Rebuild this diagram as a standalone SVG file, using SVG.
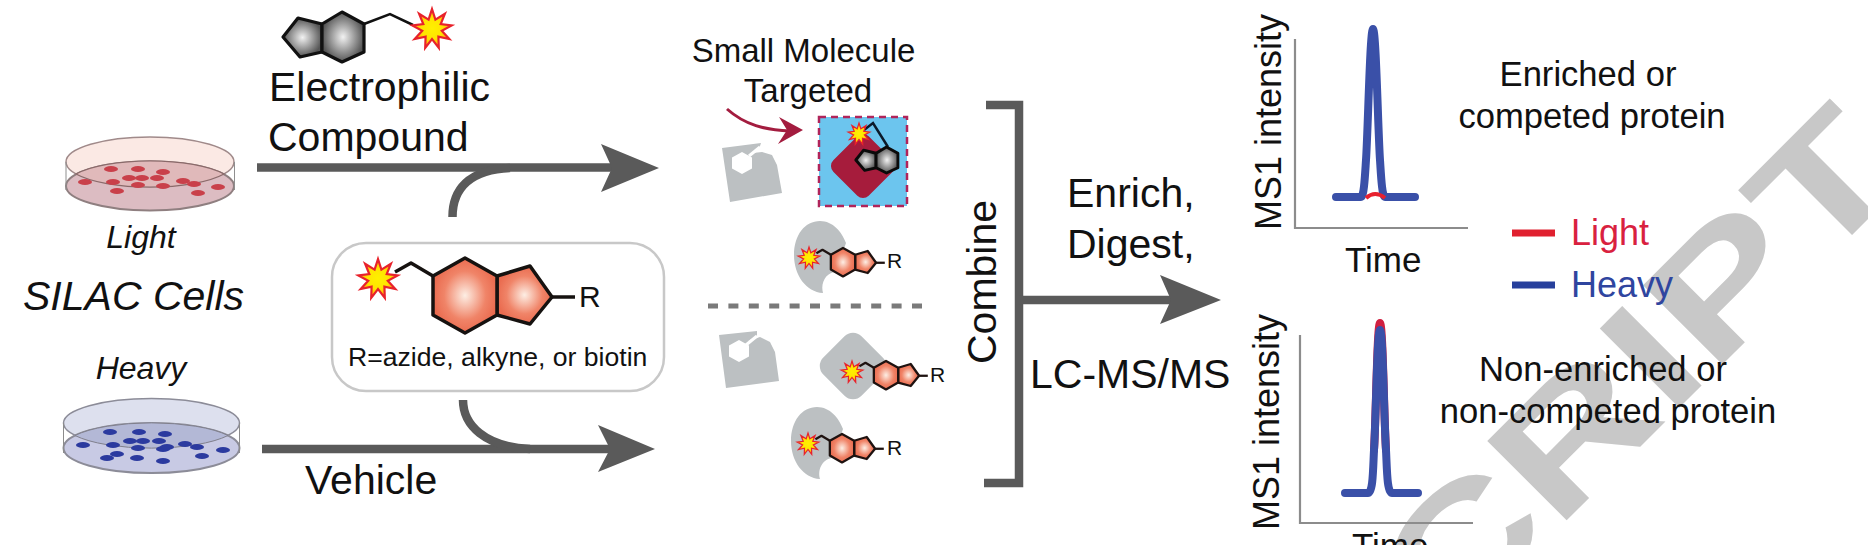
<svg xmlns="http://www.w3.org/2000/svg" width="1868" height="545" viewBox="0 0 1868 545">
<style>
text{font-family:"Liberation Sans",Arial,sans-serif;fill:#111}
.i{font-style:italic}
.m{text-anchor:middle}
.f41{font-size:41px}
.f35{font-size:34.6px}
.f36{font-size:36px}
.conn{fill:none;stroke:#5a5a5a;stroke-width:8.5}
.head{fill:#5a5a5a}
.ax{fill:none;stroke:#8c8c8c;stroke-width:2.2}
.prot{fill:#bcc0c2}
.pk{fill:none;stroke:#3a50a8;stroke-width:8;stroke-linecap:round;stroke-linejoin:round}
.cr{fill:#c9404a}
.cb{fill:#2b3a9f}
</style>
<defs>
<radialGradient id="gg"><stop offset="0" stop-color="#f2f2f2"/><stop offset="1" stop-color="#555"/></radialGradient>
<radialGradient id="og"><stop offset="0" stop-color="#fdeee4"/><stop offset=".65" stop-color="#f08468"/><stop offset="1" stop-color="#ea6c50"/></radialGradient>
<radialGradient id="sg"><stop offset="0" stop-color="#fff000"/><stop offset=".55" stop-color="#ffe400"/><stop offset="1" stop-color="#ff9a10"/></radialGradient>
<polygon id="star" points="0,-20 3.4,-9.4 12.9,-15.3 8.7,-5 19.7,-3.5 9.8,1.7 17.3,10 6.4,7.7 6.8,18.8 0,10 -6.8,18.8 -6.4,7.7 -17.3,10 -9.8,1.7 -19.7,-3.5 -8.7,-5 -12.9,-15.3 -3.4,-9.4" fill="url(#sg)" stroke="#e8222b" stroke-width="2.2"/>
<g id="omol" stroke-linejoin="round">
<polyline points="-70,-23 -54,-32 -32,-19" fill="none"/>
<line x1="87" y1="2" x2="110" y2="2"/>
<polygon points="32,-19 65,-29 87,2 65,29 32,20" fill="url(#og)"/>
<polygon points="-32,-19 0,-37 32,-19 32,20 0,38 -32,20" fill="url(#og)"/>
</g>
<g id="gmol" stroke-linejoin="round">
<polygon points="-60,0 -45,-19 -21,-13 -21,15 -43,20" fill="url(#gg)"/>
<polygon points="-21,-13 -1,-25 21,-13 21,15 -1,25 -21,15" fill="url(#gg)"/>
</g>
<path id="blob" class="prot" d="M823,293 C806,292 794,275 794,255 C794,235 805,221 820,221 C833,221 842,232 846,243 L836,272 C827,272 820,282 823,293 Z"/>
</defs>

<g id="watermark"><text transform="translate(1444,643) rotate(-45) scale(1.35,1)" font-size="163" font-weight="700" style="fill:#c8c8c8">CRIPT</text></g>

<g id="connectors">
<line class="conn" x1="257" y1="167.5" x2="615" y2="167.5"/>
<polygon class="head" points="659,168 601,144 612,168 601,192"/>
<path class="conn" d="M452.5,217 C452.5,190 468,170 510,168"/>
<line class="conn" x1="262" y1="449" x2="612" y2="449"/>
<polygon class="head" points="655,449 598,425 610,449 598,472"/>
<path class="conn" d="M463,400 C463,425 485,447 530,449"/>
<path class="conn" d="M986,105 H1019 V483 H984"/>
<line class="conn" x1="1019" y1="300" x2="1174" y2="300"/>
<polygon class="head" points="1221,300 1160,275 1171,300 1160,324"/>
<line x1="708" y1="306" x2="923" y2="306" stroke="#7a7a7a" stroke-width="5" stroke-dasharray="10 10.4"/>
<path d="M727,109 C745,125 765,130 790,131" fill="none" stroke="#a31c3f" stroke-width="3"/>
<polygon points="803,130 779,117 787,130 778,144" fill="#a31c3f"/>
</g>

<g id="compound-top">
<polyline points="364,24 390,14 413,25" fill="none" stroke="#111" stroke-width="2.5"/>
<use href="#gmol" transform="translate(343,37)" stroke="#111" stroke-width="3.2"/>
<use href="#star" transform="translate(432,29)"/>
<text class="f41" x="269" y="100.7">Electrophilic</text>
<text class="f41" x="268" y="150.7">Compound</text>
</g>

<g id="dish-light">
<ellipse cx="150" cy="162" rx="84" ry="25" fill="#fbe9e4" stroke="#a08a8a" stroke-width="1.5"/>
<ellipse cx="150" cy="186" rx="84" ry="24.5" fill="#dcbcc2" stroke="#8f7f80" stroke-width="2"/>
<path d="M76,174 A84,25 0 0 1 224,174 A84,25 0 0 1 76,174 Z" fill="#e0b9ba" stroke="#8a6a6a" stroke-width="1.2"/>
<path d="M66,162 V190 M234.500,162 V190" stroke="#8f8f8f" stroke-width="1"/>
<g class="cr"><ellipse cx="111" cy="169" rx="7" ry="3"/><ellipse cx="138" cy="169" rx="7" ry="3"/><ellipse cx="163" cy="172" rx="7" ry="3"/><ellipse cx="85" cy="182" rx="7" ry="3"/><ellipse cx="113" cy="182" rx="7" ry="3"/><ellipse cx="129" cy="178" rx="7" ry="3"/><ellipse cx="142" cy="178" rx="7" ry="3"/><ellipse cx="157" cy="178" rx="7" ry="3"/><ellipse cx="138" cy="185" rx="7" ry="3"/><ellipse cx="163" cy="186" rx="7" ry="3"/><ellipse cx="183" cy="181" rx="7" ry="3"/><ellipse cx="194" cy="184" rx="7" ry="3"/><ellipse cx="218" cy="187" rx="7" ry="3"/><ellipse cx="198" cy="193" rx="7" ry="3"/><ellipse cx="117" cy="191" rx="7" ry="3"/></g>
<text class="i m" font-size="32" x="141" y="248">Light</text>
</g>

<g id="silac"><text class="i f41" x="23" y="310">SILAC Cells</text></g>

<g id="dish-heavy">
<text class="i m" font-size="32" x="141" y="379">Heavy</text>
<ellipse cx="151.500" cy="423" rx="88" ry="24.500" fill="#dde0ee" stroke="#8c8c98" stroke-width="1.500"/>
<ellipse cx="151.500" cy="448" rx="88" ry="25" fill="#c8cae4" stroke="#8c8c98" stroke-width="2"/>
<path d="M75,435.500 A88,25 0 0 1 228,435.500 A88,25 0 0 1 75,435.500 Z" fill="#b3b8d6" stroke="#80808c" stroke-width="1"/>
<path d="M63.500,423 V453 M239.500,423 V453" stroke="#8c8c8c" stroke-width="1"/>
<g class="cb"><ellipse cx="110" cy="432" rx="7" ry="3"/><ellipse cx="139" cy="432" rx="7" ry="3"/><ellipse cx="165" cy="434" rx="7" ry="3"/><ellipse cx="83" cy="445" rx="7" ry="3"/><ellipse cx="113" cy="445" rx="7" ry="3"/><ellipse cx="130" cy="441" rx="7" ry="3"/><ellipse cx="143" cy="441" rx="7" ry="3"/><ellipse cx="159" cy="441" rx="7" ry="3"/><ellipse cx="138" cy="448" rx="7" ry="3"/><ellipse cx="163" cy="449" rx="7" ry="3"/><ellipse cx="167" cy="447" rx="7" ry="3"/><ellipse cx="185" cy="444" rx="7" ry="3"/><ellipse cx="197" cy="447" rx="7" ry="3"/><ellipse cx="223" cy="450" rx="7" ry="3"/><ellipse cx="202" cy="456" rx="7" ry="3"/><ellipse cx="117" cy="454" rx="7" ry="3"/><ellipse cx="107" cy="458" rx="7" ry="3"/><ellipse cx="137" cy="458" rx="7" ry="3"/><ellipse cx="163" cy="461" rx="7" ry="3"/></g>
</g>

<g id="vehicle"><text class="f41" x="305" y="494">Vehicle</text></g>

<g id="probe-box">
<rect x="332" y="243" width="332" height="148" rx="34" fill="#fff" stroke="#c8c8c8" stroke-width="2.500"/>
<use href="#omol" transform="translate(465,295)" stroke="#161210" stroke-width="3.500"/>
<use href="#star" transform="translate(378,279)"/>
<text font-size="30" x="579" y="307">R</text>
<text font-size="26.600" x="348" y="366">R=azide, alkyne, or biotin</text>
</g>

<g id="target-label">
<text class="m" font-size="33" x="803.500" y="62">Small Molecule</text>
<text class="m" font-size="33" x="808" y="102">Targeted</text>
</g>

<g id="protein-apo-top">
<polygon class="prot" points="722,148 761,143 759,149 753,153 762,152 772,155 777,165 782,193 730,202"/>
<polygon fill="#fff" points="742,152 752,157.500 752,168.500 742,174 732,168.500 732,157.500"/>
<line x1="749" y1="156" x2="760" y2="147" stroke="#fff" stroke-width="3"/>
</g>

<g id="target-box">
<rect x="819" y="117" width="88" height="89" fill="#6cc5ee" stroke="#b0245a" stroke-width="2.500" stroke-dasharray="7 5"/>
<rect x="838" y="141" width="50" height="50" rx="8" fill="#a61c3c" transform="rotate(45 863 166)"/>
<polyline points="864,130 873,123 888,147" fill="none" stroke="#0b1a2a" stroke-width="2.500"/>
<use href="#gmol" transform="translate(887,160) scale(.52)" stroke="#0a0a0a" stroke-width="5.500"/>
<use href="#star" transform="translate(859,134) scale(.55)" stroke="none"/>
</g>

<g id="protein-bound-1">
<use href="#blob"/>
<use href="#omol" transform="translate(843,262) scale(.38)" stroke="#1e1210" stroke-width="6"/>
<use href="#star" transform="translate(809,258) scale(.55)"/>
<text font-size="21" x="887" y="268">R</text>
</g>

<g id="protein-apo-bottom">
<polygon class="prot" points="719,335 757,331 757,336 748,341 760,337 770,342 775,352 779,381 726,388"/>
<polygon fill="#fff" points="739,340 749,345.500 749,356.500 739,362 729,356.500 729,345.500"/>
<line x1="746" y1="345" x2="757" y2="336" stroke="#fff" stroke-width="3"/>
</g>

<g id="protein-bound-2">
<rect x="826" y="339" width="54" height="54" rx="12" class="prot" transform="rotate(45 853 366)"/>
<use href="#omol" transform="translate(886,375) scale(.38)" stroke="#1e1210" stroke-width="6"/>
<use href="#star" transform="translate(852,372) scale(.55)"/>
<text font-size="21" x="930" y="382">R</text>
</g>

<g id="protein-bound-3">
<use href="#blob" transform="translate(-3,186)"/>
<use href="#omol" transform="translate(842,448) scale(.38)" stroke="#1e1210" stroke-width="6"/>
<use href="#star" transform="translate(808,444) scale(.55)"/>
<text font-size="21" x="887" y="455">R</text>
</g>

<g id="combine"><text class="f41" transform="translate(996,364) rotate(-90)">Combine</text></g>

<g id="workflow-labels">
<text class="f41" x="1067" y="207">Enrich,</text>
<text class="f41" x="1067" y="258">Digest,</text>
<text class="f41" x="1030" y="388">LC-MS/MS</text>
</g>

<g id="chart-top">
<path class="ax" d="M1295,39 V228 H1468"/>
<text class="f36" transform="translate(1281,230) rotate(-90)">MS1 intensity</text>
<path class="pk" d="M1336,197 H1361 C1364,197 1365,175 1366,160 C1368,130 1370,29 1373,29 C1376,29 1378,130 1380,160 C1381,175 1382,197 1385,197 H1415"/>
<path d="M1366,198 Q1375,190 1385,198" fill="none" stroke="#e8212f" stroke-width="4"/>
<text font-size="35" x="1345" y="272">Time</text>
</g>

<g id="chart-bottom">
<path class="ax" d="M1300,335 V523 H1473"/>
<text class="f36" transform="translate(1279,530) rotate(-90)">MS1 intensity</text>
<path class="pk" style="stroke:#d01f40" d="M1374,450 C1376,420 1377,323 1380,323 C1383,323 1384,420 1386,450"/>
<path class="pk" d="M1345,493 H1368 C1373,493 1373,470 1374,450 C1376,420 1377,330 1380,330 C1383,330 1384,420 1386,450 C1387,470 1387,493 1392,493 H1418"/>
<text font-size="35" x="1352" y="558">Time</text>
</g>

<g id="legend">
<line x1="1512" y1="233" x2="1555" y2="233" stroke="#e0202f" stroke-width="7"/>
<text class="f36" x="1571" y="245" style="fill:#d9213f">Light</text>
<line x1="1512" y1="285" x2="1555" y2="285" stroke="#27409c" stroke-width="7"/>
<text class="f36" x="1571" y="297" style="fill:#2f459f">Heavy</text>
</g>

<g id="result-labels">
<text class="m f35" x="1588" y="86">Enriched or</text>
<text class="m f35" x="1592" y="128">competed protein</text>
<text class="m f35" x="1603" y="381">Non-enriched or</text>
<text class="m f35" x="1608" y="423">non-competed protein</text>
</g>
</svg>
